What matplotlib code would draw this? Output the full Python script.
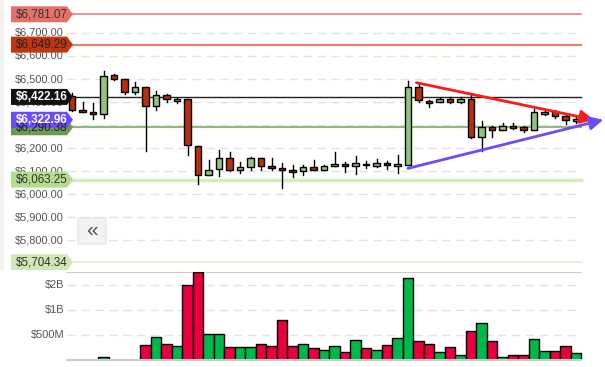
import numpy as np
import matplotlib
matplotlib.use("Agg")
import matplotlib.pyplot as plt
from matplotlib.patches import Polygon, Rectangle, FancyBboxPatch

plt.rcParams['font.family'] = ['Liberation Sans', 'DejaVu Sans']

# candle data (49 sessions)
opens = [6428, 6365, 6357, 6348, 6518, 6499, 6443, 6464, 6384, 6430,
         6404, 6412, 6210, 6085, 6111, 6158, 6106, 6119, 6158, 6124,
         6115, 6106, 6099, 6119, 6106, 6124, 6132, 6124, 6132, 6124,
         6134, 6121, 6128, 6464, 6404, 6400, 6412, 6400, 6412, 6249,
         6292, 6279, 6296, 6292, 6279, 6348, 6361, 6339, 6318]
closes = [6366, 6357, 6350, 6514, 6499, 6443, 6464, 6384, 6430, 6414,
          6412, 6212, 6085, 6106, 6158, 6106, 6119, 6158, 6124, 6113,
          6106, 6098, 6119, 6106, 6124, 6132, 6124, 6134, 6125, 6134,
          6125, 6129, 6464, 6408, 6395, 6412, 6400, 6412, 6249, 6292,
          6279, 6296, 6287, 6279, 6356, 6356, 6339, 6322, 6326]
highs = [6440, 6402, 6395, 6534, 6521, 6499, 6488, 6464, 6450, 6435,
         6419, 6412, 6210, 6147, 6191, 6181, 6138, 6162, 6158, 6158,
         6137, 6128, 6128, 6150, 6128, 6181, 6141, 6164, 6145, 6154,
         6145, 6168, 6491, 6477, 6408, 6416, 6424, 6421, 6430, 6318,
         6296, 6309, 6309, 6296, 6369, 6369, 6365, 6344, 6335]
lows = [6360, 6357, 6328, 6331, 6496, 6434, 6434, 6187, 6365, 6401,
        6397, 6170, 6045, 6085, 6079, 6102, 6094, 6106, 6106, 6106,
        6025, 6076, 6081, 6106, 6106, 6124, 6098, 6089, 6115, 6119,
        6111, 6094, 6128, 6400, 6378, 6400, 6395, 6395, 6244, 6188,
        6249, 6279, 6283, 6270, 6279, 6344, 6331, 6305, 6309]
volumes = [0.2e9, 0.2e9, 0.2e9, 0.272e9, 0.2e9, 0.2e9, 0.2e9, 0.376e9, 0.47e9, 0.386e9,
           0.366e9, 1.98e9, 2.85e9, 0.51e9, 0.52e9, 0.355e9, 0.355e9, 0.355e9, 0.386e9, 0.366e9,
           0.75e9, 0.366e9, 0.386e9, 0.346e9, 0.327e9, 0.366e9, 0.31e9, 0.43e9, 0.346e9, 0.327e9,
           0.376e9, 0.456e9, 2.41e9, 0.42e9, 0.386e9, 0.31e9, 0.355e9, 0.285e9, 0.555e9, 0.69e9,
           0.42e9, 0.274e9, 0.285e9, 0.285e9, 0.444e9, 0.318e9, 0.318e9, 0.366e9, 0.30e9]
vol_up = [0, 0, 0, 1, 0, 0, 1, 0, 1, 0,
          1, 0, 0, 1, 1, 0, 1, 1, 0, 0,
          0, 0, 1, 0, 1, 1, 0, 1, 0, 1,
          0, 1, 1, 0, 0, 1, 0, 1, 0, 1,
          0, 1, 0, 0, 1, 1, 0, 0, 1]

price_ticks = [5800, 5900, 6000, 6100, 6200, 6300, 6400, 6500, 6600, 6700]
vol_ticks = [5e8, 1e9, 2e9]
vol_tick_labels = ['$500M', '$1B', '$2B']

# price levels: value, tag colour, text colour, line colour, line width, bold
levels = [
    (6781.07, '#e8706a', '#333333', '#e8837c', 1.2, False),
    (6649.29, '#c0360e', '#222222', '#e0846e', 1.6, False),
    (6290.38, '#6b9a52', '#222222', '#93b880', 1.5, False),
    (6063.25, '#b5dc8d', '#333333', '#d5ebbf', 2.5, False),
    (5704.34, '#cfe8b5', '#333333', '#e6f2d8', 1.5, False),
    (6422.16, '#111111', 'white', '#222222', 1.0, True),
    (6322.96, '#6a4cff', 'white', None, 0, True),
]

# trend lines (index, price)
red_trend = [(32.8, 6484), (49.7, 6323)]
purple_trend = [(32.0, 6112), (50.6, 6323)]

# figure geometry (pixels -> candle index)
W, H = 605, 367
def px2i(x):
    return (x - 72) / 10.5
scale = 0.2303  # px per $
p_top = 6500 + 79 / scale
p_bot = 6500 - 191 / scale
def px2p(dy):
    return dy / scale

fig = plt.figure(figsize=(W / 100, H / 100), dpi=100)
fig.patch.set_facecolor('white')
xlim = (px2i(0), px2i(W))

ax = fig.add_axes([0, (H - 270) / H, 1, 270 / H])
ax.set_xlim(*xlim)
ax.set_ylim(p_bot, p_top)
ax.axis('off')

ax.add_patch(Rectangle((px2i(0), p_bot), px2i(4) - px2i(0), p_top - p_bot,
                       facecolor='#f2f2f2', edgecolor='none', zorder=0))

x0, x1 = px2i(67), px2i(581)
for p in price_ticks:
    ax.plot([x0, x1], [p, p], color='#e2e2ea', lw=1, dashes=(6, 4), zorder=1)
    ax.text(px2i(64), p, '${:,.2f}'.format(p), ha='right', va='center',
            fontsize=7.9, color='#555555', zorder=2)

for val, bg, tc, lc, lw, bold in levels:
    if lc:
        ax.plot([px2i(70), x1], [val, val], color=lc, lw=lw, zorder=3)

# candles
idx = np.arange(len(opens))
bw = 0.31
for i in idx:
    o, c, hi, lo = opens[i], closes[i], highs[i], lows[i]
    ax.plot([i, i], [lo, hi], color='black', lw=1, zorder=4)
    col = '#93c47d' if c >= o else '#b72f0c'
    ax.add_patch(Rectangle((i - bw, min(o, c)), 2 * bw, max(abs(c - o), 1.5),
                           facecolor=col, edgecolor='black', lw=1, zorder=5))

# trend arrows
for pts, col in [(red_trend, '#ff1a1a'), (purple_trend, '#6a4cff')]:
    ax.annotate('', xy=pts[1], xytext=pts[0],
                arrowprops=dict(arrowstyle='-|>', color=col, lw=2,
                                mutation_scale=20, shrinkA=0, shrinkB=0),
                zorder=6)

# price tags
hh = px2p(8)
for val, bg, tc, lc, lw, bold in levels:
    poly = [(px2i(11), val - hh), (px2i(67), val - hh), (px2i(73), val),
            (px2i(67), val + hh), (px2i(11), val + hh)]
    ax.add_patch(Polygon(poly, closed=True, facecolor=bg, edgecolor='none',
                         zorder=7, joinstyle='round'))
    ax.text(px2i(16), val, '${:,.2f}'.format(val), ha='left', va='center',
            fontsize=8.4, color=tc, fontweight='bold' if bold else 'normal',
            zorder=8)

# collapse button
ax.add_patch(FancyBboxPatch((px2i(78), p_top - px2p(244)), px2i(106) - px2i(78), px2p(26),
                            boxstyle='round,pad=0,rounding_size=0.3',
                            facecolor='#f3f3f3', edgecolor='#e4e4e4', lw=0.8, zorder=7))
ax.text(px2i(92), p_top - px2p(231), '\u00ab', ha='center', va='center',
        fontsize=15, color='#555555', zorder=8)

# volume panel
vb_px, vt_px = 359.5, 272
vax = fig.add_axes([0, (H - vb_px) / H, 1, (vb_px - vt_px) / H])
vax.set_yscale('log')
vmin = 1e9 * 2 ** (-(vb_px - 310) / 25)
vmax = 1e9 * 2 ** ((310 - vt_px) / 25)
vax.set_xlim(*xlim)
vax.set_ylim(vmin, vmax)
vax.axis('off')
vax.plot([x0, x1], [vmax * 0.995, vmax * 0.995], color='#cccccc', lw=1.5, zorder=1)
vax.plot([x0, x1], [vmin, vmin], color='#cccccc', lw=1.5, zorder=6, clip_on=False)
for v, lab in zip(vol_ticks, vol_tick_labels):
    vax.plot([x0, x1], [v, v], color='#e2e2ea', lw=1, dashes=(6, 4), zorder=1)
    vax.text(px2i(64), v, lab, ha='right', va='center', fontsize=7.9, color='#555555')
vcols = ['#00b84a' if u else '#e8003c' for u in vol_up]
base = 0.1e9
vax.bar(idx, np.array(volumes) - base, width=1.0, bottom=base, color=vcols,
        edgecolor='black', lw=1, zorder=3)

fig.savefig('out.png', dpi=100)
